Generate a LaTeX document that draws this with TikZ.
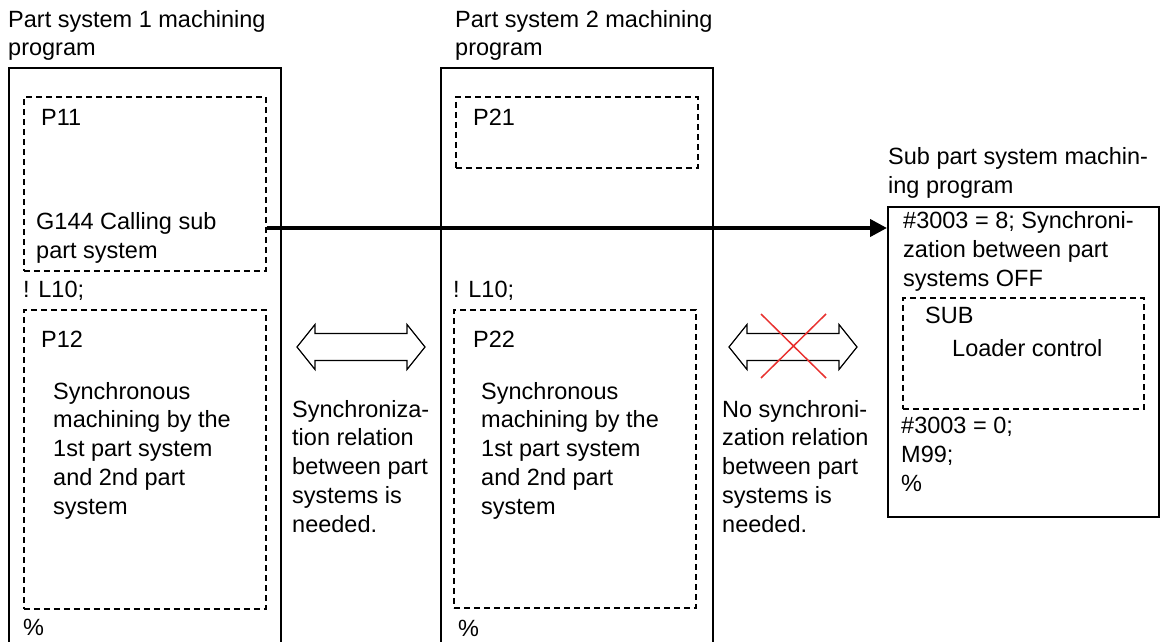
\documentclass[tikz,border=0pt]{standalone}
\usepackage{fontspec}
\setmainfont{Liberation Sans}
\usetikzlibrary{arrows.meta,positioning}
\definecolor{nc-red}{HTML}{E8312F}

\tikzset{
  prog/.style={draw, line width=1.6pt},
  dashbox/.style={draw, line width=1.6pt, dash pattern=on 6pt off 4pt, inner sep=0pt, anchor=north west},
  txt/.style={anchor=base west, inner sep=0pt, align=left, font=\fontsize{23.5}{28.75}\selectfont},
}

\begin{document}
\begin{tikzpicture}[x=1pt, y=-1pt, >=stealth]
    \useasboundingbox (0,0) rectangle (1160,642);
    % program frames
    \draw[prog] (9,650) -- (9,68) -- (281,68) -- (281,650);
    \draw[prog] (441,650) -- (441,68) -- (713,68) -- (713,650);
    \node[prog, anchor=north west, inner sep=0pt, minimum width=271pt, minimum height=310pt] (subprog) at (887,206) {};
    % dashed blocks
    \node[dashbox, minimum width=242pt, minimum height=174pt] (p11) at (23,96) {};
    \node[dashbox, minimum width=242pt, minimum height=299pt] (p12) at (23,309) {};
    \node[dashbox, minimum width=242pt, minimum height=71pt] (p21) at (455,96) {};
    \node[dashbox, minimum width=242pt, minimum height=298pt] (p22) at (453,309) {};
    \node[dashbox, minimum width=241pt, minimum height=111pt] (sub) at (902,297) {};
    % titles (base = last line)
    \node[txt] (title1) at (8,56) {Part system 1 machining\\program};
    \node[txt] (title2) at (455,56) {Part system 2 machining\\program};
    \node[txt] (title3) at (888,193.5) {Sub part system machin-\\ing program};
    % part system 1
    \node[txt] (p11lbl) at (41,125) {P11};
    \node[txt] (call) at (36,258.5) {G144 Calling sub\\part system};
    \node[txt] (l10a) at (23,297) {! L10;};
    \node[txt] (p12lbl) at (41,347) {P12};
    \node[txt] (sync1) at (53,514) {Synchronous\\machining by the\\1st part system\\and 2nd part\\system};
    \node[txt] (end1) at (23,635) {\%};
    % part system 2
    \node[txt] (p21lbl) at (473,125) {P21};
    \node[txt] (l10b) at (453,297) {! L10;};
    \node[txt] (p22lbl) at (473,347) {P22};
    \node[txt] (sync2) at (481,514) {Synchronous\\machining by the\\1st part system\\and 2nd part\\system};
    \node[txt] (end2) at (458,636) {\%};
    % sub part system
    \node[txt] (syncoff) at (903,286) {\#3003 = 8; Synchroni-\\zation between part\\systems OFF};
    \node[txt] (sublbl) at (925,323) {SUB};
    \node[txt] (loader) at (952,356) {Loader control};
    \node[txt] (syncon) at (901,491) {\#3003 = 0;\\M99;\\\%};
    % relations
    \node[txt] (need) at (292,532) {Synchroniza-\\tion relation\\between part\\systems is\\needed.};
    \node[txt] (noneed) at (722,532) {No synchroni-\\zation relation\\between part\\systems is\\needed.};
    \foreach \ax in {297,729}
        \draw[line width=1.2pt] (\ax,347) -- ++(18,-22.5) -- ++(0,9) -- ++(92,0) -- ++(0,-9) -- ++(18,22.5)
            -- ++(-18,22.5) -- ++(0,-9) -- ++(-92,0) -- ++(0,9) -- cycle;
    \draw[nc-red, line width=1.5pt] (761,314) -- (826,378) (761,378) -- (826,314);
    % call of sub part system
    \coordinate (callfrom) at (p11.east |- 0,228);
    \draw[line width=4pt, -{Triangle[length=17pt,width=17pt]}] (callfrom) -- (subprog.west |- callfrom);
\end{tikzpicture}
\end{document}
